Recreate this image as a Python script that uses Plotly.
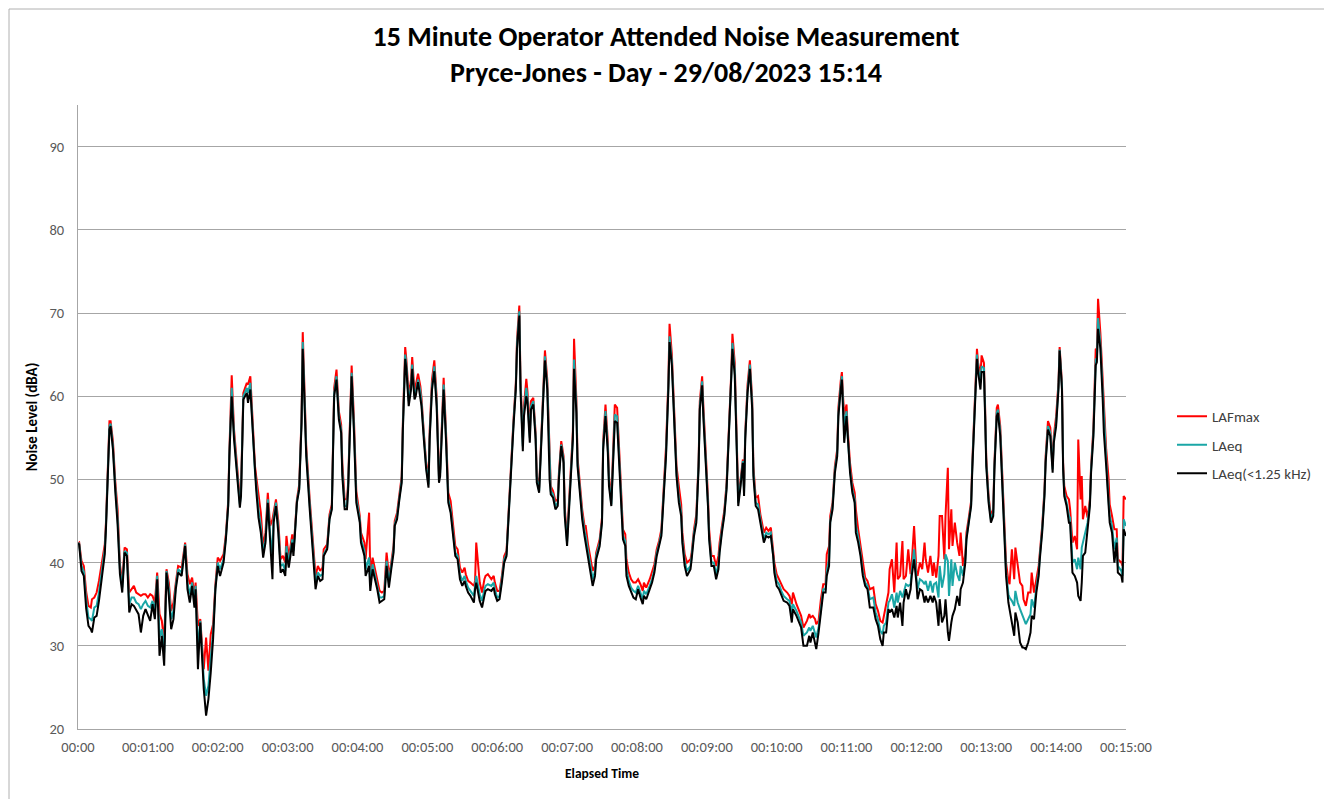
import plotly.graph_objects as go

# ---------------- data ----------------
# elapsed time in seconds
T = [
    0, 1, 3, 5, 7, 9, 11, 12, 14, 16,
    18, 20, 22, 23, 24, 26, 27, 28, 30, 32,
    34, 36, 38, 40, 42, 44, 46, 48, 50, 52,
    54, 56, 58, 60, 62, 64, 66, 68, 70, 72,
    74, 76, 78, 80, 82, 84, 86, 89, 92, 94,
    96, 98, 100, 101, 103, 105, 108, 110, 112, 114,
    116, 118, 120, 122, 125, 127, 129, 130, 132, 134,
    137, 139, 140, 142, 145, 146, 148, 150, 152, 153,
    155, 157, 159, 161, 163, 165, 167, 168, 170, 172,
    174, 176, 178, 179, 181, 184, 185, 186, 188, 190,
    192, 193, 194, 196, 199, 201, 203, 204, 206, 208,
    210, 211, 214, 216, 218, 219, 220, 222, 224, 226,
    227, 229, 231, 232, 234, 235, 237, 239, 242, 243,
    246, 247, 250, 251, 253, 255, 257, 259, 261, 263,
    265, 267, 269, 271, 272, 274, 276, 278, 279, 281,
    282, 284, 286, 287, 289, 290, 292, 294, 295, 297,
    299, 301, 302, 304, 306, 308, 310, 311, 313, 314,
    316, 318, 320, 322, 324, 326, 328, 330, 332, 333,
    335, 337, 340, 341, 342, 345, 347, 349, 350, 352,
    355, 357, 358, 360, 362, 364, 366, 368, 370, 372,
    374, 376, 377, 379, 380, 382, 383, 385, 386, 388,
    389, 391, 393, 394, 396, 398, 400, 401, 403, 405,
    406, 408, 410, 412, 413, 415, 417, 418, 420, 421,
    423, 425, 426, 428, 429, 431, 433, 435, 436, 438,
    440, 442, 444, 445, 448, 450, 451, 453, 455, 456,
    458, 460, 461, 463, 465, 466, 468, 470, 471, 473,
    475, 477, 479, 481, 483, 485, 486, 488, 491, 493,
    495, 497, 499, 501, 503, 505, 507, 508, 510, 512,
    514, 516, 518, 519, 521, 523, 526, 527, 529, 531,
    533, 534, 536, 537, 539, 541, 542, 544, 546, 548,
    550, 551, 553, 555, 557, 559, 561, 562, 564, 566,
    567, 569, 571, 572, 573, 575, 577, 579, 580, 582,
    584, 586, 588, 589, 591, 593, 595, 597, 598, 600,
    602, 604, 606, 609, 611, 613, 614, 617, 619, 621,
    623, 626, 628, 629, 631, 633, 634, 636, 638, 640,
    642, 643, 645, 646, 648, 650, 652, 653, 655, 656,
    657, 658, 660, 661, 663, 665, 667, 668, 670, 672,
    674, 676, 678, 680, 683, 685, 687, 689, 691, 692,
    694, 696, 697, 699, 701, 703, 704, 706, 708, 709,
    711, 713, 715, 716, 718, 720, 721, 723, 725, 727,
    728, 730, 732, 734, 735, 737, 739, 740, 742, 744,
    745, 747, 748, 750, 751, 753, 755, 757, 758, 760,
    762, 763, 765, 767, 768, 770, 772, 773, 775, 776,
    778, 779, 780, 782, 784, 786, 787, 789, 790, 792,
    794, 795, 797, 799, 800, 802, 804, 805, 807, 809,
    811, 812, 814, 816, 818, 819, 821, 823, 825, 826,
    828, 830, 831, 833, 835, 837, 838, 840, 842, 843,
    845, 846, 847, 849, 851, 852, 854, 856, 858, 859,
    861, 862, 863, 865, 867, 869, 870, 872, 874, 875,
    876, 878, 880, 881, 883, 885, 886, 888, 890, 892,
    893, 896, 897, 898, 900,
]

# LAFmax (red)
LAFMAX = [
    42.3, 42.4, 40.2, 39.6, 36.5, 34.8, 34.6, 35.6, 35.8, 36.4,
    37.8, 39.4, 41.4, 42.2, 44.8, 55.0, 57.0, 57.0, 54.6, 49.8,
    46.4, 39.8, 37.6, 41.8, 41.6, 36.4, 36.8, 37.2, 36.4, 36.2,
    36.0, 36.2, 36.2, 35.8, 36.2, 36.0, 35.2, 38.8, 33.8, 33.0,
    30.4, 39.2, 37.6, 34.2, 35.2, 37.6, 39.6, 39.4, 42.4, 38.6,
    37.4, 38.2, 36.0, 37.6, 32.4, 33.2, 27.2, 31.0, 27.0, 31.4,
    32.6, 37.4, 40.6, 40.2, 41.0, 43.4, 47.4, 53.4, 62.5, 56.0,
    51.0, 47.6, 48.8, 60.4, 61.6, 61.4, 62.4, 56.8, 51.6, 50.4,
    48.4, 46.0, 42.0, 43.6, 48.4, 44.4, 45.2, 46.2, 47.6, 45.0,
    40.4, 40.8, 40.0, 43.2, 40.6, 43.4, 42.0, 43.4, 47.6, 49.4,
    57.6, 67.7, 63.0, 54.0, 47.6, 43.8, 41.0, 38.4, 39.6, 39.0,
    39.4, 41.6, 42.2, 45.8, 47.0, 53.4, 61.0, 63.2, 58.2, 56.6,
    52.0, 47.6, 47.6, 49.6, 59.6, 63.7, 57.2, 48.6, 45.6, 43.6,
    42.4, 40.4, 46.0, 38.8, 40.6, 39.2, 37.8, 36.6, 36.4, 36.6,
    41.2, 38.4, 40.0, 42.0, 45.0, 46.0, 48.2, 50.4, 57.0, 65.9,
    64.4, 60.2, 62.0, 64.7, 60.6, 61.2, 62.7, 61.2, 59.8, 55.6,
    52.0, 50.0, 55.8, 62.0, 64.3, 60.0, 50.4, 51.2, 60.0, 62.2,
    56.0, 48.4, 47.4, 44.4, 42.0, 41.6, 39.4, 38.8, 39.4, 38.6,
    37.8, 37.6, 37.2, 37.8, 42.4, 37.6, 36.4, 38.0, 38.4, 38.6,
    38.0, 38.4, 37.6, 36.6, 36.6, 38.4, 40.8, 41.4, 47.0, 52.0,
    57.2, 61.6, 66.8, 70.9, 62.0, 55.0, 58.8, 62.1, 60.6, 55.8,
    59.4, 59.8, 55.6, 50.4, 49.0, 55.6, 63.6, 65.5, 62.0, 51.2,
    49.2, 48.6, 47.4, 47.6, 50.8, 54.6, 52.8, 46.6, 43.0, 45.6,
    51.2, 55.8, 66.9, 59.6, 52.6, 49.0, 46.4, 44.4, 44.4, 42.2,
    40.4, 39.0, 39.6, 41.2, 42.8, 45.4, 54.6, 59.0, 54.6, 50.4,
    47.6, 55.6, 59.0, 58.6, 51.6, 50.0, 44.0, 43.4, 40.4, 38.8,
    38.0, 37.6, 37.6, 38.0, 37.4, 36.6, 37.6, 37.0, 38.0, 38.8,
    39.8, 41.6, 42.6, 44.0, 49.0, 54.0, 62.0, 68.7, 65.0, 58.0,
    51.6, 49.2, 47.0, 43.6, 41.0, 40.0, 40.4, 41.2, 44.0, 45.8,
    52.4, 59.4, 62.4, 59.0, 54.0, 48.0, 44.0, 40.8, 40.8, 39.6,
    40.8, 42.4, 44.4, 46.2, 49.6, 55.6, 62.8, 67.5, 64.0, 53.2,
    48.0, 50.0, 52.4, 49.0, 55.6, 61.4, 64.3, 59.6, 51.6, 47.8,
    48.0, 45.8, 44.4, 43.6, 44.2, 43.8, 44.2, 41.8, 40.0, 38.6,
    38.0, 37.6, 36.8, 36.4, 36.0, 35.0, 36.4, 35.0, 34.4, 33.6,
    32.2, 33.0, 33.8, 33.4, 33.6, 33.2, 32.6, 33.0, 35.6, 37.4,
    37.4, 41.0, 42.0, 45.6, 47.2, 51.6, 53.6, 58.6, 61.8, 62.9,
    60.0, 57.8, 59.0, 56.0, 52.0, 49.6, 48.4, 46.4, 44.0, 42.0,
    39.6, 38.2, 37.8, 36.8, 37.0, 35.0, 34.2, 33.0, 32.8, 33.6,
    35.2, 36.4, 39.2, 40.4, 36.4, 42.4, 38.0, 38.4, 42.6, 38.0,
    38.4, 41.6, 38.6, 40.0, 44.4, 39.0, 38.4, 40.0, 39.2, 42.4,
    40.4, 38.8, 40.8, 38.4, 40.0, 38.2, 40.8, 45.6, 45.6, 40.4,
    45.6, 51.4, 41.6, 46.4, 42.0, 44.8, 42.4, 40.8, 43.6, 39.6,
    41.0, 43.6, 45.4, 47.4, 52.0, 59.8, 65.7, 64.0, 62.4, 64.9,
    64.0, 58.8, 52.6, 48.0, 45.6, 46.4, 52.0, 58.6, 59.0, 56.4,
    50.0, 45.2, 40.0, 37.8, 37.4, 41.6, 38.0, 41.8, 39.6, 37.6,
    37.2, 35.6, 34.8, 36.4, 36.4, 38.8, 36.4, 38.0, 39.6, 41.2,
    44.4, 48.8, 52.8, 57.0, 56.2, 51.6, 55.2, 57.6, 61.6, 65.9,
    61.6, 52.0, 49.2, 48.0, 47.6, 46.4, 42.4, 43.2, 41.6, 54.8,
    47.6, 50.4, 45.2, 46.8, 45.4, 47.6, 51.6, 56.2, 65.7, 65.6,
    71.7, 67.6, 61.6, 58.7, 53.6, 50.2, 47.0, 45.6, 44.0, 44.0,
    40.4, 40.0, 39.6, 48.0, 47.6,
]

# LAeq (teal)
LAEQ = [
    42.3, 42.3, 39.6, 38.9, 35.5, 33.4, 33.2, 33.0, 34.6, 34.8,
    36.4, 38.4, 40.6, 41.6, 44.4, 54.4, 56.4, 56.7, 54.0, 49.2,
    45.4, 39.2, 37.0, 41.4, 41.2, 35.0, 35.8, 35.8, 35.2, 35.0,
    34.4, 35.0, 35.4, 34.8, 34.6, 35.4, 34.2, 38.4, 31.0, 32.0,
    29.2, 39.0, 36.8, 33.2, 34.2, 37.2, 39.2, 38.8, 42.2, 37.6,
    36.2, 37.6, 35.2, 37.2, 29.4, 33.0, 26.0, 24.0, 25.2, 28.6,
    31.6, 37.0, 40.0, 39.2, 40.4, 43.0, 47.0, 53.0, 61.0, 55.4,
    50.2, 47.0, 48.4, 60.0, 61.0, 60.4, 61.6, 56.0, 50.8, 49.6,
    46.4, 44.4, 41.2, 42.8, 47.6, 43.4, 41.0, 45.4, 47.2, 44.2,
    39.6, 39.8, 39.0, 42.0, 40.0, 42.8, 41.4, 43.0, 47.4, 49.0,
    57.2, 66.5, 61.8, 53.4, 47.0, 43.0, 40.2, 37.6, 38.8, 38.4,
    38.6, 41.0, 41.8, 45.4, 46.6, 53.0, 60.4, 62.4, 57.6, 56.0,
    51.0, 46.8, 46.8, 49.2, 59.2, 62.8, 56.2, 47.8, 45.2, 42.8,
    41.4, 39.2, 40.6, 37.4, 39.8, 38.4, 37.2, 35.8, 35.8, 36.0,
    40.2, 37.6, 39.6, 41.6, 44.6, 45.6, 47.8, 50.0, 56.4, 65.0,
    63.8, 59.4, 61.2, 63.8, 60.0, 60.4, 62.0, 60.6, 59.2, 55.2,
    51.6, 49.4, 55.2, 61.2, 63.6, 59.4, 50.0, 50.8, 59.4, 61.4,
    55.4, 47.6, 46.4, 43.6, 41.2, 40.8, 38.6, 37.8, 38.4, 37.8,
    37.0, 36.6, 36.0, 37.2, 38.4, 36.2, 35.4, 36.8, 37.2, 37.4,
    37.2, 37.6, 36.8, 35.8, 36.0, 38.0, 40.4, 41.0, 46.6, 51.6,
    56.8, 61.2, 66.2, 70.2, 61.4, 54.0, 58.2, 61.0, 59.8, 55.0,
    58.8, 59.4, 55.2, 50.0, 48.6, 55.2, 63.0, 64.8, 61.4, 50.6,
    48.6, 48.2, 46.8, 47.2, 50.4, 54.2, 52.4, 46.0, 42.4, 45.0,
    50.8, 55.2, 64.4, 58.8, 52.0, 48.4, 45.8, 43.8, 43.2, 41.4,
    39.4, 38.0, 39.0, 40.8, 42.4, 45.0, 54.0, 58.2, 53.8, 49.8,
    47.0, 55.2, 57.8, 57.6, 50.8, 49.2, 43.2, 42.6, 39.2, 37.8,
    37.0, 36.6, 36.4, 37.2, 36.4, 35.6, 36.6, 36.2, 37.2, 38.0,
    39.2, 41.2, 42.2, 43.6, 48.4, 53.2, 61.2, 67.2, 64.2, 57.2,
    50.8, 47.8, 46.0, 42.8, 40.2, 39.0, 39.6, 40.8, 43.6, 45.2,
    52.0, 58.8, 61.8, 58.2, 53.2, 47.2, 43.2, 40.0, 40.0, 38.6,
    39.8, 41.6, 44.0, 45.8, 49.2, 55.2, 62.2, 66.4, 63.2, 52.4,
    47.2, 49.6, 52.2, 48.4, 55.2, 60.8, 63.8, 59.0, 51.0, 47.2,
    47.0, 45.2, 43.6, 42.8, 43.6, 43.4, 43.6, 41.2, 39.4, 37.8,
    37.4, 36.6, 36.0, 35.6, 35.4, 34.0, 35.0, 34.2, 33.6, 32.8,
    31.2, 31.6, 32.2, 31.8, 32.4, 31.6, 31.0, 32.2, 34.8, 36.8,
    36.8, 39.0, 40.4, 45.0, 46.8, 51.2, 53.2, 58.0, 61.2, 62.4,
    59.2, 56.2, 58.2, 55.2, 51.2, 48.8, 47.6, 44.6, 43.0, 41.2,
    38.8, 37.6, 37.2, 35.6, 35.8, 34.0, 33.2, 31.8, 31.4, 32.4,
    32.8, 35.2, 35.4, 36.2, 34.6, 36.4, 35.2, 36.6, 35.8, 36.4,
    37.4, 37.2, 37.4, 39.0, 41.6, 38.2, 36.8, 38.0, 37.8, 37.4,
    37.8, 36.6, 37.8, 36.4, 37.4, 37.6, 35.8, 39.6, 37.0, 38.6,
    41.0, 40.2, 36.0, 40.4, 37.2, 40.0, 38.6, 37.8, 39.6, 38.4,
    40.4, 43.0, 45.0, 47.0, 51.6, 59.2, 65.0, 63.4, 61.6, 63.6,
    63.4, 58.2, 52.0, 47.6, 45.2, 46.0, 51.6, 58.0, 58.4, 55.8,
    49.2, 44.4, 39.0, 36.2, 35.8, 35.4, 34.8, 36.6, 35.2, 34.4,
    33.6, 33.2, 32.6, 33.2, 33.8, 35.6, 34.6, 37.0, 38.8, 40.8,
    44.0, 48.4, 52.4, 56.4, 55.6, 51.2, 54.8, 56.8, 61.2, 65.6,
    61.2, 51.6, 48.4, 47.2, 45.6, 45.4, 40.0, 40.4, 39.2, 40.6,
    39.2, 41.8, 42.4, 43.4, 44.8, 47.2, 51.2, 55.6, 64.4, 64.6,
    69.4, 66.4, 60.4, 56.6, 52.4, 47.6, 45.6, 44.4, 41.6, 43.0,
    39.6, 39.0, 38.4, 45.2, 44.4,
]

# LAeq(<1.25 kHz) (black)
LAEQ_LF = [
    42.3, 42.2, 39.0, 38.4, 34.5, 32.4, 32.0, 31.6, 33.4, 33.6,
    35.4, 37.6, 39.8, 41.0, 44.0, 53.8, 56.0, 56.4, 53.6, 48.6,
    44.6, 38.6, 36.4, 41.2, 40.8, 34.0, 35.0, 34.8, 34.2, 33.8,
    31.6, 33.6, 34.4, 33.8, 33.0, 35.0, 33.2, 38.0, 28.8, 31.2,
    27.6, 38.8, 36.0, 32.0, 33.2, 36.8, 38.8, 38.4, 42.0, 36.8,
    35.2, 37.2, 34.6, 36.8, 27.2, 32.8, 24.8, 21.6, 23.6, 26.8,
    30.8, 36.8, 39.6, 38.4, 40.0, 42.8, 46.8, 52.8, 60.0, 54.8,
    49.6, 46.6, 48.0, 59.6, 60.4, 59.2, 60.8, 55.4, 50.0, 48.8,
    45.4, 43.6, 40.6, 42.4, 47.2, 42.6, 38.0, 44.8, 46.8, 43.6,
    38.8, 39.2, 38.4, 41.2, 39.4, 42.4, 40.8, 42.8, 47.2, 48.8,
    56.8, 65.7, 60.8, 52.8, 46.4, 42.4, 39.6, 36.8, 38.4, 37.8,
    38.0, 40.8, 41.6, 45.2, 46.4, 52.8, 60.0, 62.0, 57.2, 55.6,
    50.4, 46.4, 46.4, 48.8, 58.8, 62.4, 55.6, 47.2, 44.8, 42.4,
    40.8, 38.4, 39.6, 36.6, 39.2, 38.0, 36.8, 35.2, 35.4, 35.6,
    39.6, 37.0, 39.2, 41.2, 44.4, 45.2, 47.6, 49.6, 56.0, 64.5,
    63.3, 58.8, 60.8, 63.3, 59.6, 60.0, 61.7, 60.0, 58.8, 54.8,
    51.2, 49.0, 54.8, 60.8, 63.0, 58.8, 49.6, 50.4, 58.8, 60.8,
    54.8, 47.2, 46.0, 43.2, 40.8, 40.4, 38.0, 37.2, 37.8, 37.2,
    36.4, 36.0, 35.2, 36.8, 37.6, 35.4, 34.6, 36.0, 36.6, 36.8,
    36.6, 37.0, 36.2, 35.4, 35.6, 37.6, 40.0, 40.8, 46.4, 51.2,
    56.4, 60.8, 65.7, 69.7, 60.8, 53.4, 57.6, 60.0, 59.2, 54.4,
    58.4, 59.0, 54.8, 49.6, 48.4, 54.8, 62.5, 64.3, 60.8, 50.0,
    48.2, 47.8, 46.4, 46.8, 50.0, 54.0, 52.0, 45.6, 42.0, 44.8,
    50.4, 54.8, 63.3, 58.0, 51.6, 48.0, 45.2, 43.2, 42.4, 40.8,
    38.8, 37.2, 38.4, 40.4, 42.0, 44.8, 53.6, 57.6, 53.2, 49.2,
    46.8, 54.8, 57.0, 56.8, 50.4, 48.8, 42.8, 42.0, 38.4, 37.2,
    36.4, 35.8, 35.6, 36.8, 35.8, 35.0, 36.0, 35.6, 36.8, 37.6,
    38.8, 40.8, 42.0, 43.2, 48.0, 52.8, 60.8, 66.5, 63.7, 56.8,
    50.4, 47.2, 45.6, 42.4, 39.6, 38.4, 39.2, 40.4, 43.2, 44.8,
    51.6, 58.4, 61.3, 57.6, 52.8, 46.8, 42.8, 39.6, 39.6, 38.0,
    39.2, 41.2, 43.6, 45.6, 48.8, 54.8, 61.7, 65.7, 62.5, 52.0,
    46.8, 49.2, 52.0, 48.0, 54.8, 60.4, 63.3, 58.4, 50.4, 46.8,
    46.4, 44.8, 43.2, 42.4, 43.2, 43.0, 43.2, 40.8, 38.8, 37.2,
    36.8, 36.0, 35.4, 35.2, 34.8, 32.8, 34.4, 33.6, 32.8, 32.2,
    30.0, 30.0, 31.2, 30.4, 31.6, 30.4, 29.6, 31.6, 34.4, 36.4,
    36.4, 38.4, 39.6, 44.8, 46.4, 50.8, 52.8, 57.6, 60.8, 62.0,
    58.4, 54.4, 57.6, 54.8, 50.8, 48.4, 47.2, 43.6, 42.4, 40.8,
    38.4, 37.2, 36.8, 34.6, 34.6, 33.2, 32.4, 30.8, 30.0, 31.6,
    31.6, 34.4, 34.0, 34.4, 33.4, 34.8, 33.4, 35.2, 32.4, 35.2,
    36.8, 35.6, 36.8, 38.4, 40.4, 37.6, 35.6, 36.8, 36.6, 35.2,
    36.0, 35.2, 36.0, 35.2, 36.0, 35.2, 32.4, 35.6, 32.8, 33.6,
    35.6, 31.6, 30.6, 32.8, 33.6, 34.4, 36.0, 34.8, 36.8, 37.6,
    40.0, 42.8, 44.8, 46.8, 51.2, 58.8, 64.5, 62.9, 60.8, 62.9,
    62.9, 57.6, 51.6, 47.2, 44.8, 45.6, 51.2, 57.6, 58.0, 55.2,
    48.8, 44.0, 38.4, 35.2, 34.4, 32.4, 31.2, 34.0, 32.8, 30.4,
    29.8, 29.8, 29.6, 30.4, 31.6, 33.6, 33.2, 36.4, 38.4, 40.4,
    43.6, 48.0, 52.0, 56.0, 55.2, 50.8, 54.4, 56.4, 60.8, 65.5,
    60.8, 51.2, 48.0, 46.8, 44.8, 44.8, 38.8, 38.4, 37.6, 36.0,
    35.4, 37.6, 40.8, 41.2, 44.4, 46.8, 50.8, 55.2, 63.7, 64.1,
    68.1, 65.7, 59.6, 55.6, 51.6, 46.4, 44.8, 43.6, 40.0, 42.4,
    38.8, 38.4, 37.6, 44.0, 43.2,
]

assert len(T) == len(LAFMAX) == len(LAEQ) == len(LAEQ_LF)

SERIES_NAMES = ["LAFmax", "LAeq", "LAeq(<1.25 kHz)"]
X_TICK_VALUES = [0, 60, 120, 180, 240, 300, 360, 420, 480, 540, 600, 660, 720, 780, 840, 900]
X_TICK_LABELS = ["00:00", "00:01:00", "00:02:00", "00:03:00", "00:04:00", "00:05:00",
                 "00:06:00", "00:07:00", "00:08:00", "00:09:00", "00:10:00", "00:11:00",
                 "00:12:00", "00:13:00", "00:14:00", "00:15:00"]
TITLE = "15 Minute Operator Attended Noise Measurement<br>Pryce-Jones - Day - 29/08/2023 15:14"

# ---------------- figure ----------------
# the page body adds an 8px margin, so the figure is a little smaller than the window
PAGE_OFF = 8
W, H = 1332 - PAGE_OFF, 799 - PAGE_OFF
ML, MR, MT, MB = 78 - PAGE_OFF, 206, 105 - PAGE_OFF, 70
PW, PH = W - ML - MR, H - MT - MB

FONT = "Calibri, Carlito, Lato, sans-serif"
COLORS = ["#ff0000", "#1aa6a6", "#000000"]

fig = go.Figure()
for i, (name, vals) in enumerate(zip(SERIES_NAMES, [LAFMAX, LAEQ, LAEQ_LF])):
    fig.add_trace(go.Scatter(
        x=T, y=vals, mode="lines", name=name,
        line=dict(color=COLORS[i], width=2),
        legendgroup=f"g{i}",
    ))

def px_x(page_px):
    return (page_px - PAGE_OFF - ML) / PW

def px_y(page_py):
    return (H - MB - (page_py - PAGE_OFF)) / PH

fig.update_layout(
    width=W, height=H,
    margin=dict(l=ML, r=MR, t=MT, b=MB, pad=0),
    paper_bgcolor="white", plot_bgcolor="white",
    font=dict(family=FONT, size=14, color="#595959"),
    title=dict(text=TITLE, x=(666 - PAGE_OFF) / W, xref="container", xanchor="center",
               y=1 - 38 / H, yref="container", yanchor="top",
               font=dict(family=FONT, size=28, color="#000000", weight="bold")),
    showlegend=True,
    legend=dict(x=px_x(1172), y=px_y(445), xanchor="left", yanchor="middle",
                font=dict(family=FONT, size=15, color="#404040"),
                tracegroupgap=6, bgcolor="rgba(0,0,0,0)", itemwidth=30),
    xaxis=dict(range=[0, 900], tickmode="array", tickvals=X_TICK_VALUES,
               ticktext=X_TICK_LABELS, showgrid=False, zeroline=False,
               showline=True, linecolor="#a6a6a6", linewidth=1, ticks="",
               ticklabelstandoff=5,
               tickfont=dict(family=FONT, size=14.5, color="#595959"),
               title=dict(text="Elapsed Time", standoff=13,
                          font=dict(family=FONT, size=13.5, color="#000000", weight="bold"))),
    yaxis=dict(range=[20, 95], tick0=20, dtick=10, showgrid=True,
               gridcolor="#a6a6a6", gridwidth=1, zeroline=False,
               showline=True, linecolor="#a6a6a6", linewidth=1, ticks="",
               ticklabelstandoff=10,
               tickfont=dict(family=FONT, size=14.5, color="#595959"),
               title=dict(text="Noise Level (dBA)", standoff=8,
                          font=dict(family=FONT, size=15, color="#000000", weight="bold"))),
    hovermode=False,
    shapes=[dict(type="rect", xref="paper", yref="paper",
                 x0=px_x(9), x1=px_x(1328), y0=px_y(812), y1=px_y(9),
                 line=dict(color="#b0b0b0", width=1), fillcolor="rgba(0,0,0,0)",
                 layer="above")],
)

fig.write_html("out.html")
